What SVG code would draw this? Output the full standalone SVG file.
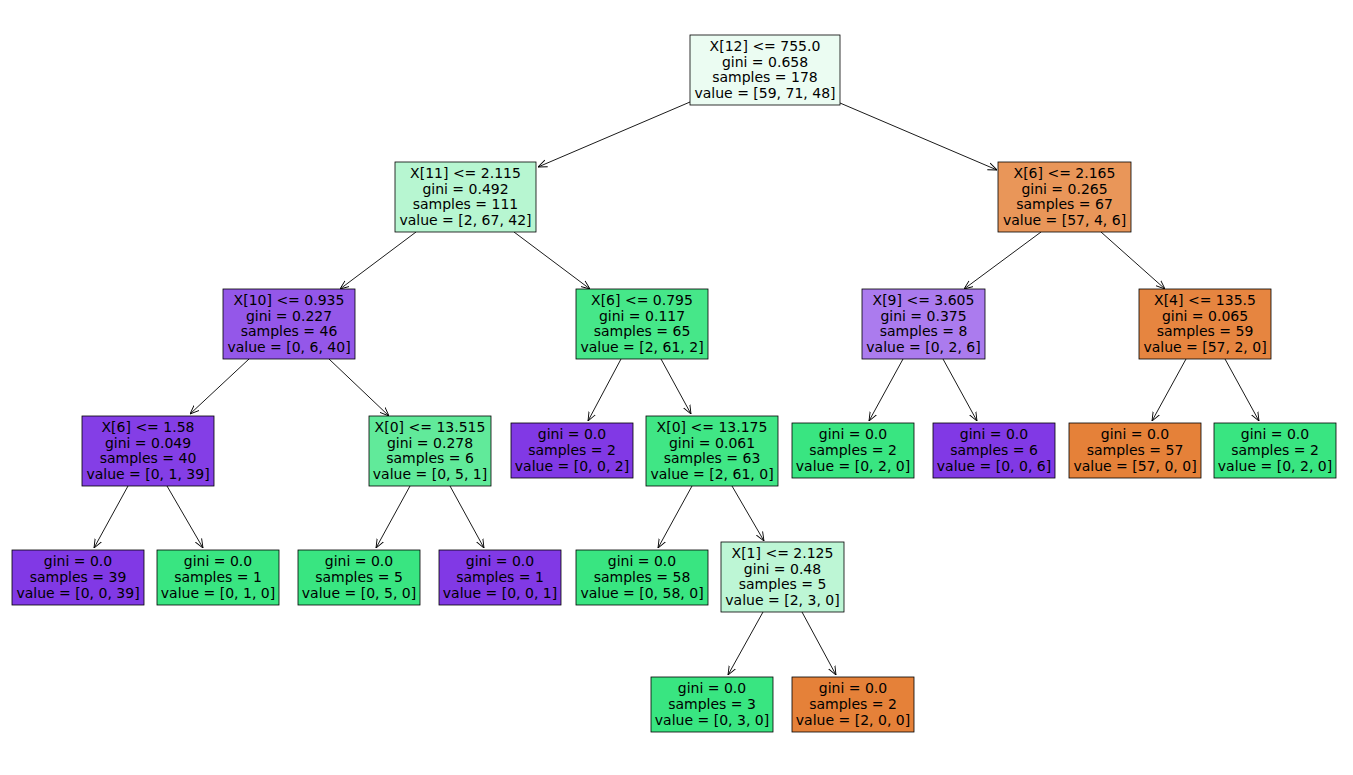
<svg xmlns="http://www.w3.org/2000/svg" width="1353" height="775" viewBox="0 0 1353 775">
<style>
rect{stroke:#000;stroke-width:0.8}
text{font-family:"DejaVu Sans",sans-serif;font-size:14px;text-anchor:middle;fill:#000}
.e line{stroke:#000;stroke-width:0.9;marker-end:url(#a)}
</style>
<defs><marker id="a" viewBox="0 0 10 10" refX="10" refY="5" markerWidth="9" markerHeight="9" orient="auto" markerUnits="userSpaceOnUse"><path d="M0,1 L10,5 L0,9" fill="none" stroke="#000" stroke-width="1"/></marker></defs>
<rect width="1353" height="775" fill="#fff" style="stroke:none"/>
<g class="e">
<line x1="690" y1="102" x2="538" y2="167"/><line x1="840" y1="103" x2="997" y2="170"/>
<line x1="416" y1="232" x2="340" y2="289"/><line x1="514" y1="232" x2="590" y2="289"/>
<line x1="1041" y1="232" x2="964" y2="289"/><line x1="1101" y1="232" x2="1165" y2="289"/>
<line x1="249" y1="359" x2="190" y2="414"/><line x1="329" y1="359" x2="389" y2="416"/>
<line x1="621" y1="359" x2="588" y2="421"/><line x1="661" y1="359" x2="691" y2="414"/>
<line x1="903" y1="359" x2="869" y2="421"/><line x1="943" y1="359" x2="977" y2="421"/>
<line x1="1186" y1="359" x2="1152" y2="421"/><line x1="1225" y1="359" x2="1259" y2="421"/>
<line x1="128" y1="486" x2="94" y2="548"/><line x1="167" y1="486" x2="203" y2="548"/>
<line x1="410" y1="486" x2="376" y2="548"/><line x1="450" y1="486" x2="484" y2="548"/>
<line x1="692" y1="486" x2="658" y2="548"/><line x1="732" y1="486" x2="764" y2="541"/>
<line x1="763" y1="612" x2="728" y2="675"/><line x1="802" y1="612" x2="836" y2="675"/>
</g>
<g id="n0"><rect x="690" y="35" width="150" height="70" fill="#ebfcf2"/><text x="765" y="51">X[12] &lt;= 755.0</text><text x="765" y="67">gini = 0.658</text><text x="765" y="82">samples = 178</text><text x="765" y="98">value = [59, 71, 48]</text></g>
<g id="n1"><rect x="395" y="162" width="141" height="70" fill="#b7f6d1"/><text x="465.5" y="178">X[11] &lt;= 2.115</text><text x="465.5" y="194">gini = 0.492</text><text x="465.5" y="209">samples = 111</text><text x="465.5" y="225">value = [2, 67, 42]</text></g>
<g id="n2"><rect x="998" y="162" width="133" height="70" fill="#e99659"/><text x="1064.5" y="178">X[6] &lt;= 2.165</text><text x="1064.5" y="194">gini = 0.265</text><text x="1064.5" y="209">samples = 67</text><text x="1064.5" y="225">value = [57, 4, 6]</text></g>
<g id="n3"><rect x="223" y="289" width="132" height="70" fill="#9457e9"/><text x="289" y="305">X[10] &lt;= 0.935</text><text x="289" y="321">gini = 0.227</text><text x="289" y="336">samples = 46</text><text x="289" y="352">value = [0, 6, 40]</text></g>
<g id="n4"><rect x="576" y="289" width="132" height="70" fill="#46e789"/><text x="642" y="305">X[6] &lt;= 0.795</text><text x="642" y="321">gini = 0.117</text><text x="642" y="336">samples = 65</text><text x="642" y="352">value = [2, 61, 2]</text></g>
<g id="n5"><rect x="862" y="289" width="123" height="70" fill="#ab7bee"/><text x="923.5" y="305">X[9] &lt;= 3.605</text><text x="923.5" y="321">gini = 0.375</text><text x="923.5" y="336">samples = 8</text><text x="923.5" y="352">value = [0, 2, 6]</text></g>
<g id="n6"><rect x="1139" y="289" width="132" height="70" fill="#e68540"/><text x="1205" y="305">X[4] &lt;= 135.5</text><text x="1205" y="321">gini = 0.065</text><text x="1205" y="336">samples = 59</text><text x="1205" y="352">value = [57, 2, 0]</text></g>
<g id="n7"><rect x="82" y="416" width="132" height="70" fill="#843ee6"/><text x="148" y="432">X[6] &lt;= 1.58</text><text x="148" y="448">gini = 0.049</text><text x="148" y="463">samples = 40</text><text x="148" y="479">value = [0, 1, 39]</text></g>
<g id="n8"><rect x="369" y="416" width="122" height="70" fill="#61ea9a"/><text x="430" y="432">X[0] &lt;= 13.515</text><text x="430" y="448">gini = 0.278</text><text x="430" y="463">samples = 6</text><text x="430" y="479">value = [0, 5, 1]</text></g>
<g id="n9"><rect x="511" y="423" width="122" height="55" fill="#8139e5"/><text x="572" y="439">gini = 0.0</text><text x="572" y="455">samples = 2</text><text x="572" y="471">value = [0, 0, 2]</text></g>
<g id="n10"><rect x="646" y="416" width="132" height="70" fill="#40e685"/><text x="712" y="432">X[0] &lt;= 13.175</text><text x="712" y="448">gini = 0.061</text><text x="712" y="463">samples = 63</text><text x="712" y="479">value = [2, 61, 0]</text></g>
<g id="n11"><rect x="792" y="423" width="122" height="55" fill="#39e581"/><text x="853" y="439">gini = 0.0</text><text x="853" y="455">samples = 2</text><text x="853" y="471">value = [0, 2, 0]</text></g>
<g id="n12"><rect x="933" y="423" width="122" height="55" fill="#8139e5"/><text x="994" y="439">gini = 0.0</text><text x="994" y="455">samples = 6</text><text x="994" y="471">value = [0, 0, 6]</text></g>
<g id="n13"><rect x="1069" y="423" width="132" height="55" fill="#e58139"/><text x="1135" y="439">gini = 0.0</text><text x="1135" y="455">samples = 57</text><text x="1135" y="471">value = [57, 0, 0]</text></g>
<g id="n14"><rect x="1214" y="423" width="122" height="55" fill="#39e581"/><text x="1275" y="439">gini = 0.0</text><text x="1275" y="455">samples = 2</text><text x="1275" y="471">value = [0, 2, 0]</text></g>
<g id="n15"><rect x="12" y="550" width="132" height="55" fill="#8139e5"/><text x="78" y="566">gini = 0.0</text><text x="78" y="582">samples = 39</text><text x="78" y="598">value = [0, 0, 39]</text></g>
<g id="n16"><rect x="157" y="550" width="122" height="55" fill="#39e581"/><text x="218" y="566">gini = 0.0</text><text x="218" y="582">samples = 1</text><text x="218" y="598">value = [0, 1, 0]</text></g>
<g id="n17"><rect x="298" y="550" width="122" height="55" fill="#39e581"/><text x="359" y="566">gini = 0.0</text><text x="359" y="582">samples = 5</text><text x="359" y="598">value = [0, 5, 0]</text></g>
<g id="n18"><rect x="439" y="550" width="122" height="55" fill="#8139e5"/><text x="500" y="566">gini = 0.0</text><text x="500" y="582">samples = 1</text><text x="500" y="598">value = [0, 0, 1]</text></g>
<g id="n19"><rect x="576" y="550" width="132" height="55" fill="#39e581"/><text x="642" y="566">gini = 0.0</text><text x="642" y="582">samples = 58</text><text x="642" y="598">value = [0, 58, 0]</text></g>
<g id="n20"><rect x="721" y="542" width="123" height="70" fill="#bdf6d5"/><text x="782.5" y="558">X[1] &lt;= 2.125</text><text x="782.5" y="574">gini = 0.48</text><text x="782.5" y="589">samples = 5</text><text x="782.5" y="605">value = [2, 3, 0]</text></g>
<g id="n21"><rect x="651" y="677" width="122" height="55" fill="#39e581"/><text x="712" y="693">gini = 0.0</text><text x="712" y="709">samples = 3</text><text x="712" y="725">value = [0, 3, 0]</text></g>
<g id="n22"><rect x="792" y="677" width="122" height="55" fill="#e58139"/><text x="853" y="693">gini = 0.0</text><text x="853" y="709">samples = 2</text><text x="853" y="725">value = [2, 0, 0]</text></g>
</svg>
